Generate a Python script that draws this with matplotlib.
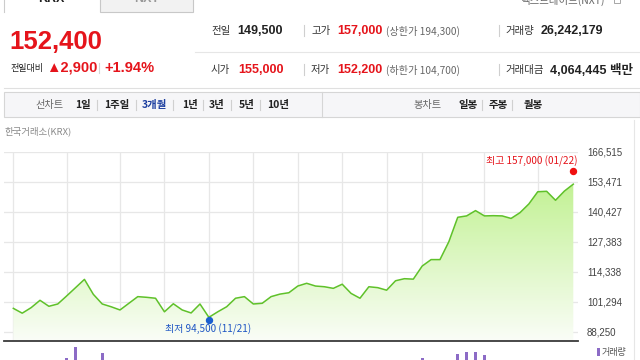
import numpy as np
import matplotlib
matplotlib.use("Agg")
import matplotlib.pyplot as plt
from matplotlib.lines import Line2D
from matplotlib.patches import Rectangle, Polygon
from matplotlib import transforms

plt.rcParams['font.family'] = ['Noto Sans CJK KR', 'DejaVu Sans']

# ---------------- data ----------------
prices = [98400, 96300, 98700, 101900, 99300, 100300, 103800, 107400, 111000, 104500,
          100300, 99100, 97700, 100600, 103500, 103200, 102800, 96900, 100400, 97700,
          96400, 100300, 94500, 96900, 99100, 102800, 103500, 100300, 100600, 103500,
          104600, 105200, 108100, 109300, 108100, 107800, 107100, 108900, 104900, 102800,
          107800, 107400, 106300, 110400, 111300, 111100, 116800, 119600, 119600, 127400,
          138000, 138600, 140900, 138600, 138700, 138600, 137500, 140000, 143800, 149100,
          149300, 145400, 149400, 152400]
volumes_m = [22.1, 18.4, 24.6, 30.2, 19.8, 21.5, 45.5, 57.5, 40.3, 38.7,
             51.6, 27.4, 20.9, 23.8, 25.1, 18.6, 17.9, 34.2, 26.5, 22.7,
             24.3, 29.8, 33.5, 25.6, 21.2, 23.9, 19.4, 20.7, 16.8, 18.2,
             17.5, 19.9, 22.4, 21.3, 15.6, 14.9, 16.2, 18.8, 24.1, 22.6,
             20.3, 17.4, 15.2, 26.8, 21.7, 19.5, 45.5, 39.8, 30.6, 41.2,
             49.9, 52.0, 52.4, 48.8, 33.1, 28.4, 27.9, 30.5, 35.7, 40.1,
             37.2, 31.8, 29.6, 26.2]
grid_idx = [0, 6, 12, 17, 22, 27, 32, 37, 42, 46, 53, 59]
y_ticks = [88250, 101294, 114338, 127383, 140427, 153471, 166515]
high_val, high_idx, high_label = 157000, 63, "최고 157,000 (01/22)"
low_val, low_idx, low_label = 94500, 22, "최저 94,500 (11/21)"

W, H = 640, 360
fig = plt.figure(figsize=(6.4, 3.6), dpi=100)
fig.patch.set_facecolor('white')

def fx(x): return x / W
def fy(y): return 1 - y / H

def hline(x0, x1, y, color='#e3e3e3', lw=0.8):
    fig.add_artist(Line2D([fx(x0), fx(x1)], [fy(y), fy(y)], color=color, lw=lw))

def vline(x, y0, y1, color='#e3e3e3', lw=0.8):
    fig.add_artist(Line2D([fx(x), fx(x)], [fy(y0), fy(y1)], color=color, lw=lw))

def rect(x, y, w, h, fc, ec='none', lw=0.8):
    fig.add_artist(Rectangle((fx(x), fy(y + h)), w / W, h / H, transform=fig.transFigure,
                             facecolor=fc, edgecolor=ec, lw=lw))

def txt(x, y, s, size=7.5, color='#333333', weight='normal', ha='left', fam=None):
    kw = {}
    if fam is not None:
        kw['family'] = fam
    fig.text(fx(x), fy(y), s, fontsize=size, color=color, fontweight=weight,
             ha=ha, va='center', **kw)

NUM = ['Liberation Sans', 'Noto Sans CJK KR', 'DejaVu Sans']
RED = '#e5141b'

# ---------------- tabs ----------------
vline(4, 0, 12, color='#cccccc')
rect(100, -2, 93, 14, fc='#f2f2f2', ec='#c8c8c8')
txt(51, -1, "KRX", size=9, color='#222222', weight='bold', ha='center', fam=NUM)
txt(147, -1, "NXT", size=9, color='#999999', weight='bold', ha='center', fam=NUM)
txt(563, 0, "넥스트레이드(NXT)", size=7.5, color='#666666', ha='center')
rect(614, -3, 6, 6, fc='white', ec='#999999', lw=0.6)

# ---------------- price header ----------------
txt(9, 42, "152,400", size=18.5, color=RED, weight='bold', fam=NUM)
txt(10, 68, "전일대비", size=6.5, color='#222222')
txt(46, 68, "▲2,900", size=10.5, color=RED, weight='bold', fam=['Liberation Sans', 'DejaVu Sans'])
vline(99, 63, 73, color='#d5d5d5')
txt(104, 68, "+1.94%", size=10.5, color=RED, weight='bold', fam=NUM)

hline(195, 640, 52, color='#e6e6e6')
hline(4, 640, 88, color='#e0e0e0')

for ycen, items in [(31, [("전일", "149,500", '#222222'), ("고가", "157,000", RED),
                          ("거래량", "26,242,179", '#222222')]),
                    (70, [("시가", "155,000", RED), ("저가", "152,200", RED),
                          ("거래대금", "4,064,445 백만", '#222222')])]:
    txt(211, ycen, items[0][0], size=7.5)
    txt(237 if ycen == 31 else 238, ycen, items[0][1], size=9, color=items[0][2], weight='bold', fam=NUM)
    vline(304, ycen - 6, ycen + 5, color='#cfcfcf')
    txt(311, ycen, items[1][0], size=7.5)
    txt(337, ycen, items[1][1], size=9, color=items[1][2], weight='bold', fam=NUM)
    txt(386, ycen, "(상한가 194,300)" if ycen == 31 else "(하한가 104,700)", size=7.3, color='#666666')
    vline(499, ycen - 6, ycen + 5, color='#cfcfcf')
    txt(505, ycen, items[2][0], size=7.5)
    txt(541 if ycen == 31 else 550, ycen, items[2][1], size=9, color=items[2][2], weight='bold', fam=NUM)

# ---------------- toolbar ----------------
rect(4, 92, 636, 25, fc='#f6f6f8', ec='#d6d6d6')
vline(322, 92, 117, color='#d6d6d6')
ty = 104.5
txt(35, ty, "선차트", size=7.3, color='#666666')
left_items = [(75, "1일"), (104, "1주일"), (142, "3개월"), (182, "1년"), (209, "3년"), (239, "5년"), (267, "10년")]
seps = [97, 136, 173, 203, 231, 260]
for x, s in left_items:
    txt(x, ty, s, size=7.5, color='#1d3fa0' if s == "3개월" else '#222222', weight='bold')
for x in seps:
    vline(x, ty - 5, ty + 5, color='#d0d0d0')
txt(413, ty, "봉차트", size=7.3, color='#666666')
for x, s in [(458, "일봉"), (489, "주봉"), (524, "월봉")]:
    txt(x, ty, s, size=7.5, color='#222222', weight='bold')
for x in [482, 512]:
    vline(x, ty - 5, ty + 5, color='#d0d0d0')

txt(5, 131, "한국거래소(KRX)", size=6.8, color='#8a8a8a')

# ---------------- main chart ----------------
n = len(prices)
xs = np.arange(n)
x_lo, x_hi = -1.05, 63.53
y_top_px, y_bot_px = 151.7, 341.0
grid_bottom_px = 331.7
per_px = (y_ticks[-1] - y_ticks[0]) / (grid_bottom_px - y_top_px)
y_hi = y_ticks[-1]
y_lo = y_ticks[0] - (y_bot_px - grid_bottom_px) * per_px

ax = fig.add_axes([fx(4), fy(y_bot_px), (578 - 4) / W, (y_bot_px - y_top_px) / H])
ax.set_xlim(x_lo, x_hi)
ax.set_ylim(y_lo, y_hi)
ax.set_facecolor('none')

# gradient fill under line
top_c = np.array([183, 239, 128]) / 255
bot_c = np.array([250, 253, 247]) / 255
t = np.linspace(0, 1, 256).reshape(-1, 1)
img = top_c[None, None, :] * (1 - t[:, :, None]) + bot_c[None, None, :] * t[:, :, None]
im = ax.imshow(img, extent=[x_lo, x_hi, y_lo, y_hi], aspect='auto', origin='upper', zorder=1)
verts = np.column_stack([np.r_[xs, xs[-1], xs[0]], np.r_[prices, y_lo, y_lo]])
poly = Polygon(verts, closed=True, facecolor='none', edgecolor='none')
ax.add_patch(poly)
im.set_clip_path(poly)

ax.plot(xs, prices, color='#5fc12a', lw=1.1, zorder=3)

ax.set_xticks(grid_idx)
ax.set_xticklabels([])
ax.set_yticks(y_ticks)
ax.set_yticklabels([f"{v:,}" for v in y_ticks])
ax.yaxis.tick_right()
ax.tick_params(axis='y', length=0, pad=6.5, labelsize=7, labelcolor='#444444')
ax.tick_params(axis='x', length=0)
for lab in ax.get_yticklabels():
    lab.set_family(NUM)
ax.grid(True, color='#e7e7e7', lw=0.9, zorder=0)
ax.set_axisbelow(True)
for s in ['top', 'left', 'right']:
    ax.spines[s].set_visible(False)
ax.spines['bottom'].set_color('#3a3a3a')
ax.spines['bottom'].set_linewidth(1.3)

up = transforms.offset_copy(ax.transData, fig=fig, x=0, y=2.6, units='dots')
dn = transforms.offset_copy(ax.transData, fig=fig, x=0, y=-2.7, units='dots')
ax.plot([high_idx], [high_val], 'o', color='#f01010', ms=4.3, transform=up, zorder=5, clip_on=False)
ax.plot([low_idx], [low_val], 'o', color='#1a5fd0', ms=4.3, transform=dn, zorder=5, clip_on=False)
txt(577, 161, high_label, size=7.2, color=RED, ha='right')
txt(208, 329.5, low_label, size=7.2, color='#1f56c4', ha='center')

# ---------------- volume ----------------
vax = fig.add_axes([fx(4), fy(400), (578 - 4) / W, (400 - 345) / H])
vax.set_xlim(x_lo, x_hi)
vax.set_ylim(0, 60)
vax.bar(xs, volumes_m, width=0.38, color='#8c6bc6')
vax.axis('off')
rect(597, 348, 3, 8, fc='#8c6bc6')
txt(602, 352.5, "거래량", size=6.5, color='#555555')

vline(634, 120, 360, color='#e6e6e6')

fig.savefig("out.png", dpi=100)
